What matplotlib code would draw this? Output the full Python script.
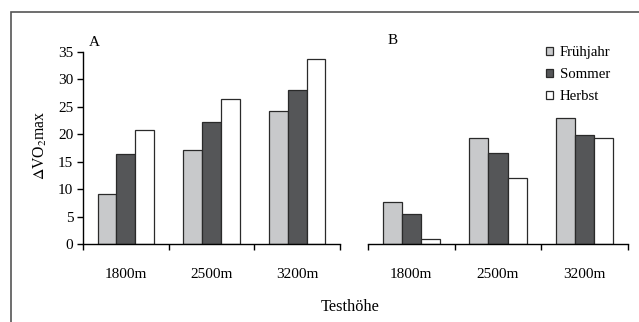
import numpy as np
import matplotlib
matplotlib.use('Agg')
import matplotlib.pyplot as plt
from matplotlib.patches import Rectangle

plt.rcParams['font.family'] = ['Liberation Serif', 'DejaVu Serif']
plt.rcParams['mathtext.fontset'] = 'stix'
plt.rcParams['font.size'] = 11

# data
heights = ['1800m', '2500m', '3200m']
seasons = ['Frühjahr', 'Sommer', 'Herbst']
colors = ['#c8c9cb', '#555658', '#ffffff']

panel_a = [[9.1, 17.1, 24.2],    # Frühjahr
           [16.4, 22.3, 28.0],   # Sommer
           [20.7, 26.4, 33.7]]   # Herbst
panel_b = [[7.7, 19.3, 23.0],
           [5.5, 16.5, 19.8],
           [0.9, 12.0, 19.3]]

W, H = 639, 322
fig = plt.figure(figsize=(W/100, H/100), dpi=100)

def px_axes(x0, x1, ytop, ybot):
    return fig.add_axes([x0/W, 1 - ybot/H, (x1 - x0)/W, (ybot - ytop)/H])

ax_a = px_axes(83, 340, 52, 244)
ax_b = px_axes(368, 628, 52, 244)

x = np.arange(len(heights))
bw = 0.22
for ax, data in [(ax_a, panel_a), (ax_b, panel_b)]:
    for i, vals in enumerate(data):
        ax.bar(x + (i - 1)*bw, vals, bw, color=colors[i],
               edgecolor='#2a2a2a', linewidth=0.9, label=seasons[i])
    ax.set_xlim(-0.5, 2.5)
    ax.set_ylim(0, 35)
    ax.spines['top'].set_visible(False)
    ax.spines['right'].set_visible(False)
    ax.spines['bottom'].set_linewidth(1.0)
    # ticks between groups, labels under the group centres
    ax.set_xticks(np.arange(-0.5, 3, 1))
    ax.set_xticklabels([])
    ax.set_xticks(x, minor=True)
    ax.set_xticklabels(heights, minor=True)
    ax.tick_params(axis='x', which='major', direction='out', length=4, width=1.0)
    ax.tick_params(axis='x', which='minor', length=0, pad=17, labelsize=11)
    ax.patch.set_visible(False)

ax_a.set_yticks(np.arange(0, 36, 5))
ax_a.tick_params(axis='y', direction='out', length=4, width=1.0, pad=3, labelsize=11)
ax_a.spines['left'].set_linewidth(1.0)

ax_b.spines['left'].set_visible(False)
ax_b.set_yticks([])

fig.text(94/W, 1 - 42/H, 'A', ha='center', va='center', fontsize=11)
fig.text(393/W, 1 - 41/H, 'B', ha='center', va='center', fontsize=11)
fig.text(40/W, 1 - 145/H, r'$\Delta$VO$_2$max', rotation=90,
         ha='center', va='center', fontsize=11.3)
fig.text(350/W, 1 - 307/H, 'Testhöhe', ha='center', va='center', fontsize=11.8)

ax_b.legend(loc='upper left', bbox_to_anchor=(546/W, 1 - 46/H),
            bbox_transform=fig.transFigure, frameon=False, fontsize=10.6,
            handlelength=0.47, handleheight=0.47, handletextpad=0.45,
            labelspacing=0.62, borderpad=0, borderaxespad=0)

fig.patches.append(Rectangle((11/W, -0.1), 1.2, 1 - 12/H + 0.1,
                             transform=fig.transFigure, fill=False,
                             edgecolor='#555555', linewidth=1.2,
                             clip_on=False))

fig.savefig('out.png', dpi=100)
